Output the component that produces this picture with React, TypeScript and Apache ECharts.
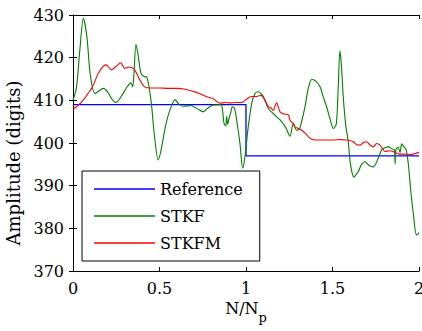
import React, { useEffect, useRef } from "react";
import * as echarts from "echarts";

const seriesNames = ["Reference", "STKF", "STKFM"];
const seriesColors = ["#0000ff", "#008000", "#ff0000"];

const xTicks = [0, 0.5, 1, 1.5, 2];
const yTicks = [370, 380, 390, 400, 410, 420, 430];

const referenceData: number[][] = [
  [0, 409], [1, 409], [1, 397], [2, 397],
];

const stkfData: number[][] = [
  [0, 410.0], [0.02, 413], [0.04, 422], [0.06, 429.2], [0.08, 425], [0.1, 416],
  [0.127, 411.6], [0.15, 412.2], [0.175, 412.8], [0.2, 412], [0.225, 410.3],
  [0.249, 409.5], [0.28, 411], [0.31, 413], [0.335, 414.1], [0.345, 413.2],
  [0.352, 416], [0.364, 423.1], [0.375, 421], [0.393, 416.3], [0.41, 415.6],
  [0.425, 415.5], [0.44, 413], [0.455, 408.5], [0.47, 402], [0.493, 396.0],
  [0.51, 398.5], [0.535, 404], [0.56, 407.7], [0.59, 410.1], [0.615, 409],
  [0.64, 408.6], [0.68, 408.8], [0.72, 408], [0.753, 407.3], [0.78, 408.2],
  [0.811, 408.9], [0.855, 409.0], [0.865, 407.5], [0.873, 404.6], [0.883, 404.0],
  [0.888, 406.2], [0.894, 404.4], [0.902, 405.8], [0.911, 407.0], [0.921, 408.5],
  [0.934, 408.1], [0.946, 405.4], [0.965, 399.9], [0.981, 394.1], [0.994, 396.8],
  [1.013, 403.8], [1.033, 409.3], [1.052, 411.6], [1.071, 412.0], [1.085, 411.6],
  [1.1, 410.9], [1.129, 408.1], [1.16, 406.8], [1.197, 405.4], [1.23, 403.6],
  [1.254, 401.6], [1.274, 404.6], [1.293, 403.0], [1.31, 403.4], [1.341, 408.5],
  [1.36, 412.8], [1.38, 414.9], [1.4, 414.6], [1.428, 413.2], [1.445, 411],
  [1.466, 408.5], [1.49, 405], [1.505, 403.4], [1.522, 404.5], [1.533, 413],
  [1.543, 421.6], [1.552, 418], [1.562, 410.9], [1.577, 404], [1.59, 400.7],
  [1.601, 396.0], [1.612, 393.2], [1.624, 392.0], [1.636, 392.6], [1.649, 393.3],
  [1.668, 395], [1.688, 395.6], [1.71, 394.8], [1.736, 394.4], [1.76, 396],
  [1.784, 398.4], [1.803, 398.9], [1.823, 399.1], [1.845, 398.6], [1.858, 398.4],
  [1.862, 395.1], [1.866, 398.4], [1.88, 399], [1.89, 397.8], [1.9, 399.8],
  [1.91, 399.2], [1.925, 398.5], [1.938, 395.2], [1.952, 389], [1.967, 383.5],
  [1.986, 378.4], [2.0, 379],
];

const stkfmData: number[][] = [
  [0, 407.9], [0.03, 408.8], [0.06, 410.1], [0.085, 411.5], [0.108, 412.8],
  [0.13, 414.8], [0.146, 416.3], [0.17, 417.8], [0.191, 418.3], [0.21, 417.6],
  [0.224, 417.1], [0.25, 418], [0.276, 418.8], [0.29, 417.9], [0.3, 417.5],
  [0.32, 417.8], [0.339, 417.7], [0.355, 417.2], [0.368, 416.3], [0.39, 414.5],
  [0.416, 413.1], [0.45, 412.9], [0.5, 412.9], [0.55, 412.8], [0.6, 412.8],
  [0.65, 412.6], [0.695, 412.1], [0.73, 411.6], [0.763, 411.0], [0.79, 410.6],
  [0.811, 410.4], [0.835, 409.6], [0.85, 409.3], [0.88, 409.5], [0.91, 409.4],
  [0.94, 409.5], [0.975, 409.5], [1.004, 410.3], [1.03, 410.9], [1.062, 410.9],
  [1.085, 411.2], [1.1, 410.6], [1.115, 409.6], [1.129, 408.5], [1.145, 408.2],
  [1.158, 407.6], [1.168, 408.7], [1.177, 409.5], [1.187, 408.4], [1.197, 407.3],
  [1.22, 406.8], [1.245, 406.6], [1.255, 405.3], [1.273, 404.5], [1.283, 403.8],
  [1.302, 403.4], [1.322, 403.0], [1.345, 402.2], [1.37, 401.1], [1.399, 400.7],
  [1.45, 400.7], [1.5, 400.7], [1.55, 400.8], [1.582, 400.7], [1.6, 400.6],
  [1.62, 400.3], [1.64, 399.6], [1.659, 399.5], [1.68, 400.2], [1.697, 400.3],
  [1.715, 399.6], [1.736, 399.1], [1.755, 399.9], [1.775, 399.5], [1.79, 398.6],
  [1.803, 398.0], [1.83, 398.2], [1.86, 397.8], [1.885, 397.4], [1.909, 397.4],
  [1.95, 397.3], [1.975, 397.5], [2.0, 397.8],
];

const FONT = "DejaVu Serif";

export default function App() {
  const ref = useRef<HTMLDivElement>(null);
  useEffect(() => {
    if (!ref.current) return;
    const chart = echarts.init(ref.current, null, { renderer: "svg" });
    const axisCommon = {
      axisLine: { show: true, lineStyle: { color: "#000", width: 1 } },
      axisTick: { show: true, inside: true, length: 4, lineStyle: { color: "#000" } },
      splitLine: { show: false },
    };
    const xMin = xTicks[0];
    const xMax = xTicks[xTicks.length - 1];
    const xInt = xTicks[1] - xTicks[0];
    const yMin = yTicks[0];
    const yMax = yTicks[yTicks.length - 1];
    const yInt = yTicks[1] - yTicks[0];
    const datasets = [referenceData, stkfData, stkfmData];
    chart.setOption({
      animation: false,
      backgroundColor: "#fff",
      grid: { left: 73, top: 15, right: 3, bottom: 60, containLabel: false, outerBoundsMode: "none" },
      legend: {
        orient: "vertical",
        left: 82,
        top: 171,
        padding: [4.5, 17, 4.5, 12],
        itemWidth: 61,
        itemHeight: 1.5,
        itemGap: 0,
        icon: "rect",
        borderColor: "#000",
        borderWidth: 1,
        backgroundColor: "#fff",
        data: seriesNames,
        textStyle: { fontFamily: FONT, fontSize: 16, color: "#000", lineHeight: 27 },
        z: 10,
      },
      xAxis: [
        {
          type: "value",
          min: xMin,
          max: xMax,
          interval: xInt,
          position: "bottom",
          ...axisCommon,
          axisLabel: { fontFamily: FONT, fontSize: 16, color: "#000", margin: 9 },
          name: "{a|N/N}{b|p}",
          nameLocation: "middle",
          nameGap: 24,
          nameTextStyle: {
            rich: {
              a: { fontFamily: FONT, fontSize: 16, color: "#000", lineHeight: 20, verticalAlign: "top" },
              b: { fontFamily: FONT, fontSize: 13, color: "#000", lineHeight: 13, verticalAlign: "top", padding: [10, 0, 0, 0] },
            },
          },
        },
        {
          type: "value",
          min: xMin,
          max: xMax,
          interval: xInt,
          position: "top",
          ...axisCommon,
          axisLabel: { show: false },
        },
      ],
      yAxis: [
        {
          type: "value",
          min: yMin,
          max: yMax,
          interval: yInt,
          position: "left",
          ...axisCommon,
          axisLabel: { fontFamily: FONT, fontSize: 16, color: "#000", margin: 9 },
          name: "Amplitude (digits)",
          nameLocation: "middle",
          nameGap: 47,
          nameRotate: 90,
          nameTextStyle: { fontFamily: FONT, fontSize: 18, color: "#000", padding: [0, 40, 0, 0] },
        },
        {
          type: "value",
          min: yMin,
          max: yMax,
          interval: yInt,
          position: "right",
          ...axisCommon,
          axisLabel: { show: false },
        },
      ],
      series: seriesNames.map((name, i) => ({
        name,
        type: "line",
        data: datasets[i],
        showSymbol: false,
        symbol: "none",
        smooth: i === 0 ? false : 0.3,
        lineStyle: { color: seriesColors[i], width: i === 0 ? 1.3 : 1.1 },
        itemStyle: { color: seriesColors[i] },
        xAxisIndex: 0,
        yAxisIndex: 0,
      })),
    });
    return () => chart.dispose();
  }, []);
  return (
    <div
      ref={ref}
      style={{ position: "fixed", left: 0, top: 0, width: 422, height: 331 }}
    />
  );
}
